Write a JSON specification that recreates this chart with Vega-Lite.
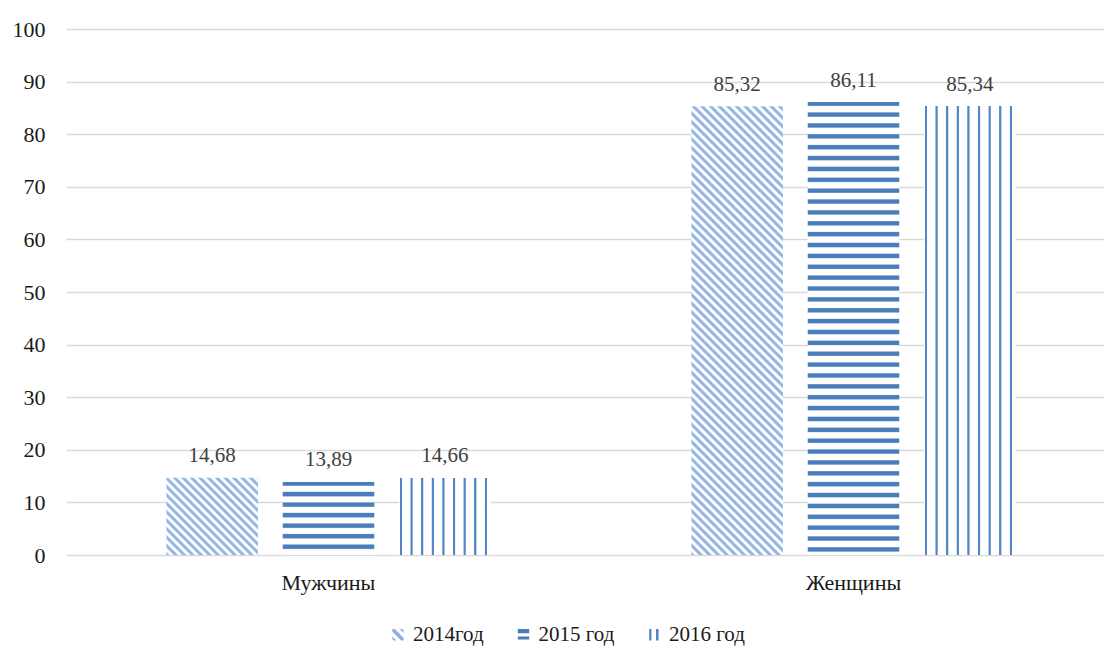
{
"$schema": "https://vega.github.io/schema/vega-lite/v6.json",
"width": 1038,
"height": 526,
"autosize": {"type": "none"},
"padding": {"left": 66, "top": 29, "right": 0, "bottom": 91},
"background": "white",
"config": {
  "view": {"stroke": null},
  "font": "Liberation Serif, Times New Roman, serif",
  "locale": {"number": {"decimal": ",", "thousands": " ", "grouping": [3], "currency": ["", ""]}}
},
"data": {"values": [
  {"sex": "Мужчины", "year": "2014год", "value": 14.68},
  {"sex": "Мужчины", "year": "2015 год", "value": 13.89},
  {"sex": "Мужчины", "year": "2016 год", "value": 14.66},
  {"sex": "Женщины", "year": "2014год", "value": 85.32},
  {"sex": "Женщины", "year": "2015 год", "value": 86.11},
  {"sex": "Женщины", "year": "2016 год", "value": 85.34}
]},
"encoding": {
  "x": {"field": "sex", "type": "nominal", "sort": ["Мужчины", "Женщины"],
    "scale": {"range": [0, 1050], "paddingInner": 0, "paddingOuter": 0},
    "axis": {"title": null, "domain": false, "ticks": false, "labelAngle": 0, "labelFont": "Liberation Serif, Times New Roman, serif", "labelFontSize": 22, "labelColor": "#1a1a1a", "labelPadding": 17}},
  "xOffset": {"field": "year", "type": "nominal", "scale": {"paddingInner": 0.213, "paddingOuter": 0.8635}},
  "y": {"field": "value", "type": "quantitative", "scale": {"domain": [0, 100]},
    "axis": {"title": null, "values": [0, 10, 20, 30, 40, 50, 60, 70, 80, 90, 100], "domain": false, "ticks": false, "grid": true, "gridColor": "#d9d9d9", "gridWidth": 1.3, "labelFont": "Liberation Serif, Times New Roman, serif", "labelFontSize": 22, "labelColor": "#1a1a1a", "labelPadding": 21}}
},
"layer": [
  {
    "mark": {"type": "point", "filled": true, "opacity": 0, "strokeWidth": 0},
    "encoding": {
      "y": {"datum": 0, "type": "quantitative"},
      "color": {"field": "year", "type": "nominal",
        "scale": {"range": ["#8fb0de", "#4a7dbb", "#5386c4"]},
        "legend": {"title": null, "orient": "none", "legendX": 321.5, "legendY": 595, "direction": "horizontal", "symbolSize": 130, "symbolStrokeWidth": 0, "symbolOpacity": 1, "labelFont": "Liberation Serif, Times New Roman, serif", "labelFontSize": 21, "labelColor": "#1a1a1a", "labelOffset": 4.5, "columnPadding": 28.5, "padding": 0}},
      "shape": {"field": "year", "type": "nominal",
        "scale": {"range": [
          "M-1,-1L-0.55,-1L1,0.55L1,1L0.55,1L-1,-0.55Z M0.3,-1L0.75,-1L1,-0.75L1,-0.3Z M-1,0.3L-0.3,1L-0.75,1L-1,0.75Z",
          "M-1,-1H1V-0.25H-1Z M-1,0.3H1V0.85H-1Z",
          "M-0.85,-1H-0.45V1H-0.85Z M0.35,-1H0.8V1H0.35Z"
        ]},
        "legend": {"title": null, "orient": "none", "legendX": 321.5, "legendY": 595, "direction": "horizontal", "symbolSize": 130, "symbolStrokeWidth": 0, "symbolOpacity": 1, "labelFont": "Liberation Serif, Times New Roman, serif", "labelFontSize": 21, "labelColor": "#1a1a1a", "labelOffset": 4.5, "columnPadding": 28.5, "padding": 0}}
    }
  },
  {
    "mark": {"type": "bar", "stroke": null},
    "encoding": {
      "fill": {
        "condition": [
          {"test": "datum.year === '2014год' && datum.sex === 'Мужчины'", "value": {"gradient": "linear", "x1": 0, "y1": 1, "x2": 1.0776, "y2": 0.092, "stops": [
            {"offset": 0, "color": "#94b4e0"}, {"offset": 0.0125, "color": "#94b4e0"}, {"offset": 0.025, "color": "#ffffff"}, {"offset": 0.0375, "color": "#ffffff"},
            {"offset": 0.05, "color": "#94b4e0"}, {"offset": 0.0625, "color": "#94b4e0"}, {"offset": 0.075, "color": "#ffffff"}, {"offset": 0.0875, "color": "#ffffff"},
            {"offset": 0.1, "color": "#94b4e0"}, {"offset": 0.1125, "color": "#94b4e0"}, {"offset": 0.125, "color": "#ffffff"}, {"offset": 0.1375, "color": "#ffffff"},
            {"offset": 0.15, "color": "#94b4e0"}, {"offset": 0.1625, "color": "#94b4e0"}, {"offset": 0.175, "color": "#ffffff"}, {"offset": 0.1875, "color": "#ffffff"},
            {"offset": 0.2, "color": "#94b4e0"}, {"offset": 0.2125, "color": "#94b4e0"}, {"offset": 0.225, "color": "#ffffff"}, {"offset": 0.2375, "color": "#ffffff"},
            {"offset": 0.25, "color": "#94b4e0"}, {"offset": 0.2625, "color": "#94b4e0"}, {"offset": 0.275, "color": "#ffffff"}, {"offset": 0.2875, "color": "#ffffff"},
            {"offset": 0.3, "color": "#94b4e0"}, {"offset": 0.3125, "color": "#94b4e0"}, {"offset": 0.325, "color": "#ffffff"}, {"offset": 0.3375, "color": "#ffffff"},
            {"offset": 0.35, "color": "#94b4e0"}, {"offset": 0.3625, "color": "#94b4e0"}, {"offset": 0.375, "color": "#ffffff"}, {"offset": 0.3875, "color": "#ffffff"},
            {"offset": 0.4, "color": "#94b4e0"}, {"offset": 0.4125, "color": "#94b4e0"}, {"offset": 0.425, "color": "#ffffff"}, {"offset": 0.4375, "color": "#ffffff"},
            {"offset": 0.45, "color": "#94b4e0"}, {"offset": 0.4625, "color": "#94b4e0"}, {"offset": 0.475, "color": "#ffffff"}, {"offset": 0.4875, "color": "#ffffff"},
            {"offset": 0.5, "color": "#94b4e0"}, {"offset": 0.5125, "color": "#94b4e0"}, {"offset": 0.525, "color": "#ffffff"}, {"offset": 0.5375, "color": "#ffffff"},
            {"offset": 0.55, "color": "#94b4e0"}, {"offset": 0.5625, "color": "#94b4e0"}, {"offset": 0.575, "color": "#ffffff"}, {"offset": 0.5875, "color": "#ffffff"},
            {"offset": 0.6, "color": "#94b4e0"}, {"offset": 0.6125, "color": "#94b4e0"}, {"offset": 0.625, "color": "#ffffff"}, {"offset": 0.6375, "color": "#ffffff"},
            {"offset": 0.65, "color": "#94b4e0"}, {"offset": 0.6625, "color": "#94b4e0"}, {"offset": 0.675, "color": "#ffffff"}, {"offset": 0.6875, "color": "#ffffff"},
            {"offset": 0.7, "color": "#94b4e0"}, {"offset": 0.7125, "color": "#94b4e0"}, {"offset": 0.725, "color": "#ffffff"}, {"offset": 0.7375, "color": "#ffffff"},
            {"offset": 0.75, "color": "#94b4e0"}, {"offset": 0.7625, "color": "#94b4e0"}, {"offset": 0.775, "color": "#ffffff"}, {"offset": 0.7875, "color": "#ffffff"},
            {"offset": 0.8, "color": "#94b4e0"}, {"offset": 0.8125, "color": "#94b4e0"}, {"offset": 0.825, "color": "#ffffff"}, {"offset": 0.8375, "color": "#ffffff"},
            {"offset": 0.85, "color": "#94b4e0"}, {"offset": 0.8625, "color": "#94b4e0"}, {"offset": 0.875, "color": "#ffffff"}, {"offset": 0.8875, "color": "#ffffff"},
            {"offset": 0.9, "color": "#94b4e0"}, {"offset": 0.9125, "color": "#94b4e0"}, {"offset": 0.925, "color": "#ffffff"}, {"offset": 0.9375, "color": "#ffffff"},
            {"offset": 0.95, "color": "#94b4e0"}, {"offset": 0.9625, "color": "#94b4e0"}, {"offset": 0.975, "color": "#ffffff"}, {"offset": 0.9875, "color": "#ffffff"},
            {"offset": 1, "color": "#94b4e0"}]}},
          {"test": "datum.year === '2014год'", "value": {"gradient": "linear", "x1": 0, "y1": 1, "x2": 0.2359, "y2": -0.1559, "stops": [
            {"offset": 0, "color": "#94b4e0"}, {"offset": 0.004, "color": "#94b4e0"}, {"offset": 0.008, "color": "#ffffff"}, {"offset": 0.012, "color": "#ffffff"},
            {"offset": 0.016, "color": "#94b4e0"}, {"offset": 0.02, "color": "#94b4e0"}, {"offset": 0.024, "color": "#ffffff"}, {"offset": 0.028, "color": "#ffffff"},
            {"offset": 0.032, "color": "#94b4e0"}, {"offset": 0.036, "color": "#94b4e0"}, {"offset": 0.04, "color": "#ffffff"}, {"offset": 0.044, "color": "#ffffff"},
            {"offset": 0.048, "color": "#94b4e0"}, {"offset": 0.052, "color": "#94b4e0"}, {"offset": 0.056, "color": "#ffffff"}, {"offset": 0.06, "color": "#ffffff"},
            {"offset": 0.064, "color": "#94b4e0"}, {"offset": 0.068, "color": "#94b4e0"}, {"offset": 0.072, "color": "#ffffff"}, {"offset": 0.076, "color": "#ffffff"},
            {"offset": 0.08, "color": "#94b4e0"}, {"offset": 0.084, "color": "#94b4e0"}, {"offset": 0.088, "color": "#ffffff"}, {"offset": 0.092, "color": "#ffffff"},
            {"offset": 0.096, "color": "#94b4e0"}, {"offset": 0.1, "color": "#94b4e0"}, {"offset": 0.104, "color": "#ffffff"}, {"offset": 0.108, "color": "#ffffff"},
            {"offset": 0.112, "color": "#94b4e0"}, {"offset": 0.116, "color": "#94b4e0"}, {"offset": 0.12, "color": "#ffffff"}, {"offset": 0.124, "color": "#ffffff"},
            {"offset": 0.128, "color": "#94b4e0"}, {"offset": 0.132, "color": "#94b4e0"}, {"offset": 0.136, "color": "#ffffff"}, {"offset": 0.14, "color": "#ffffff"},
            {"offset": 0.144, "color": "#94b4e0"}, {"offset": 0.148, "color": "#94b4e0"}, {"offset": 0.152, "color": "#ffffff"}, {"offset": 0.156, "color": "#ffffff"},
            {"offset": 0.16, "color": "#94b4e0"}, {"offset": 0.164, "color": "#94b4e0"}, {"offset": 0.168, "color": "#ffffff"}, {"offset": 0.172, "color": "#ffffff"},
            {"offset": 0.176, "color": "#94b4e0"}, {"offset": 0.18, "color": "#94b4e0"}, {"offset": 0.184, "color": "#ffffff"}, {"offset": 0.188, "color": "#ffffff"},
            {"offset": 0.192, "color": "#94b4e0"}, {"offset": 0.196, "color": "#94b4e0"}, {"offset": 0.2, "color": "#ffffff"}, {"offset": 0.204, "color": "#ffffff"},
            {"offset": 0.208, "color": "#94b4e0"}, {"offset": 0.212, "color": "#94b4e0"}, {"offset": 0.216, "color": "#ffffff"}, {"offset": 0.22, "color": "#ffffff"},
            {"offset": 0.224, "color": "#94b4e0"}, {"offset": 0.228, "color": "#94b4e0"}, {"offset": 0.232, "color": "#ffffff"}, {"offset": 0.236, "color": "#ffffff"},
            {"offset": 0.24, "color": "#94b4e0"}, {"offset": 0.244, "color": "#94b4e0"}, {"offset": 0.248, "color": "#ffffff"}, {"offset": 0.252, "color": "#ffffff"},
            {"offset": 0.256, "color": "#94b4e0"}, {"offset": 0.26, "color": "#94b4e0"}, {"offset": 0.264, "color": "#ffffff"}, {"offset": 0.268, "color": "#ffffff"},
            {"offset": 0.272, "color": "#94b4e0"}, {"offset": 0.276, "color": "#94b4e0"}, {"offset": 0.28, "color": "#ffffff"}, {"offset": 0.284, "color": "#ffffff"},
            {"offset": 0.288, "color": "#94b4e0"}, {"offset": 0.292, "color": "#94b4e0"}, {"offset": 0.296, "color": "#ffffff"}, {"offset": 0.3, "color": "#ffffff"},
            {"offset": 0.304, "color": "#94b4e0"}, {"offset": 0.308, "color": "#94b4e0"}, {"offset": 0.312, "color": "#ffffff"}, {"offset": 0.316, "color": "#ffffff"},
            {"offset": 0.32, "color": "#94b4e0"}, {"offset": 0.324, "color": "#94b4e0"}, {"offset": 0.328, "color": "#ffffff"}, {"offset": 0.332, "color": "#ffffff"},
            {"offset": 0.336, "color": "#94b4e0"}, {"offset": 0.34, "color": "#94b4e0"}, {"offset": 0.344, "color": "#ffffff"}, {"offset": 0.348, "color": "#ffffff"},
            {"offset": 0.352, "color": "#94b4e0"}, {"offset": 0.356, "color": "#94b4e0"}, {"offset": 0.36, "color": "#ffffff"}, {"offset": 0.364, "color": "#ffffff"},
            {"offset": 0.368, "color": "#94b4e0"}, {"offset": 0.372, "color": "#94b4e0"}, {"offset": 0.376, "color": "#ffffff"}, {"offset": 0.38, "color": "#ffffff"},
            {"offset": 0.384, "color": "#94b4e0"}, {"offset": 0.388, "color": "#94b4e0"}, {"offset": 0.392, "color": "#ffffff"}, {"offset": 0.396, "color": "#ffffff"},
            {"offset": 0.4, "color": "#94b4e0"}, {"offset": 0.404, "color": "#94b4e0"}, {"offset": 0.408, "color": "#ffffff"}, {"offset": 0.412, "color": "#ffffff"},
            {"offset": 0.416, "color": "#94b4e0"}, {"offset": 0.42, "color": "#94b4e0"}, {"offset": 0.424, "color": "#ffffff"}, {"offset": 0.428, "color": "#ffffff"},
            {"offset": 0.432, "color": "#94b4e0"}, {"offset": 0.436, "color": "#94b4e0"}, {"offset": 0.44, "color": "#ffffff"}, {"offset": 0.444, "color": "#ffffff"},
            {"offset": 0.448, "color": "#94b4e0"}, {"offset": 0.452, "color": "#94b4e0"}, {"offset": 0.456, "color": "#ffffff"}, {"offset": 0.46, "color": "#ffffff"},
            {"offset": 0.464, "color": "#94b4e0"}, {"offset": 0.468, "color": "#94b4e0"}, {"offset": 0.472, "color": "#ffffff"}, {"offset": 0.476, "color": "#ffffff"},
            {"offset": 0.48, "color": "#94b4e0"}, {"offset": 0.484, "color": "#94b4e0"}, {"offset": 0.488, "color": "#ffffff"}, {"offset": 0.492, "color": "#ffffff"},
            {"offset": 0.496, "color": "#94b4e0"}, {"offset": 0.5, "color": "#94b4e0"}, {"offset": 0.504, "color": "#ffffff"}, {"offset": 0.508, "color": "#ffffff"},
            {"offset": 0.512, "color": "#94b4e0"}, {"offset": 0.516, "color": "#94b4e0"}, {"offset": 0.52, "color": "#ffffff"}, {"offset": 0.524, "color": "#ffffff"},
            {"offset": 0.528, "color": "#94b4e0"}, {"offset": 0.532, "color": "#94b4e0"}, {"offset": 0.536, "color": "#ffffff"}, {"offset": 0.54, "color": "#ffffff"},
            {"offset": 0.544, "color": "#94b4e0"}, {"offset": 0.548, "color": "#94b4e0"}, {"offset": 0.552, "color": "#ffffff"}, {"offset": 0.556, "color": "#ffffff"},
            {"offset": 0.56, "color": "#94b4e0"}, {"offset": 0.564, "color": "#94b4e0"}, {"offset": 0.568, "color": "#ffffff"}, {"offset": 0.572, "color": "#ffffff"},
            {"offset": 0.576, "color": "#94b4e0"}, {"offset": 0.58, "color": "#94b4e0"}, {"offset": 0.584, "color": "#ffffff"}, {"offset": 0.588, "color": "#ffffff"},
            {"offset": 0.592, "color": "#94b4e0"}, {"offset": 0.596, "color": "#94b4e0"}, {"offset": 0.6, "color": "#ffffff"}, {"offset": 0.604, "color": "#ffffff"},
            {"offset": 0.608, "color": "#94b4e0"}, {"offset": 0.612, "color": "#94b4e0"}, {"offset": 0.616, "color": "#ffffff"}, {"offset": 0.62, "color": "#ffffff"},
            {"offset": 0.624, "color": "#94b4e0"}, {"offset": 0.628, "color": "#94b4e0"}, {"offset": 0.632, "color": "#ffffff"}, {"offset": 0.636, "color": "#ffffff"},
            {"offset": 0.64, "color": "#94b4e0"}, {"offset": 0.644, "color": "#94b4e0"}, {"offset": 0.648, "color": "#ffffff"}, {"offset": 0.652, "color": "#ffffff"},
            {"offset": 0.656, "color": "#94b4e0"}, {"offset": 0.66, "color": "#94b4e0"}, {"offset": 0.664, "color": "#ffffff"}, {"offset": 0.668, "color": "#ffffff"},
            {"offset": 0.672, "color": "#94b4e0"}, {"offset": 0.676, "color": "#94b4e0"}, {"offset": 0.68, "color": "#ffffff"}, {"offset": 0.684, "color": "#ffffff"},
            {"offset": 0.688, "color": "#94b4e0"}, {"offset": 0.692, "color": "#94b4e0"}, {"offset": 0.696, "color": "#ffffff"}, {"offset": 0.7, "color": "#ffffff"},
            {"offset": 0.704, "color": "#94b4e0"}, {"offset": 0.708, "color": "#94b4e0"}, {"offset": 0.712, "color": "#ffffff"}, {"offset": 0.716, "color": "#ffffff"},
            {"offset": 0.72, "color": "#94b4e0"}, {"offset": 0.724, "color": "#94b4e0"}, {"offset": 0.728, "color": "#ffffff"}, {"offset": 0.732, "color": "#ffffff"},
            {"offset": 0.736, "color": "#94b4e0"}, {"offset": 0.74, "color": "#94b4e0"}, {"offset": 0.744, "color": "#ffffff"}, {"offset": 0.748, "color": "#ffffff"},
            {"offset": 0.752, "color": "#94b4e0"}, {"offset": 0.756, "color": "#94b4e0"}, {"offset": 0.76, "color": "#ffffff"}, {"offset": 0.764, "color": "#ffffff"},
            {"offset": 0.768, "color": "#94b4e0"}, {"offset": 0.772, "color": "#94b4e0"}, {"offset": 0.776, "color": "#ffffff"}, {"offset": 0.78, "color": "#ffffff"},
            {"offset": 0.784, "color": "#94b4e0"}, {"offset": 0.788, "color": "#94b4e0"}, {"offset": 0.792, "color": "#ffffff"}, {"offset": 0.796, "color": "#ffffff"},
            {"offset": 0.8, "color": "#94b4e0"}, {"offset": 0.804, "color": "#94b4e0"}, {"offset": 0.808, "color": "#ffffff"}, {"offset": 0.812, "color": "#ffffff"},
            {"offset": 0.816, "color": "#94b4e0"}, {"offset": 0.82, "color": "#94b4e0"}, {"offset": 0.824, "color": "#ffffff"}, {"offset": 0.828, "color": "#ffffff"},
            {"offset": 0.832, "color": "#94b4e0"}, {"offset": 0.836, "color": "#94b4e0"}, {"offset": 0.84, "color": "#ffffff"}, {"offset": 0.844, "color": "#ffffff"},
            {"offset": 0.848, "color": "#94b4e0"}, {"offset": 0.852, "color": "#94b4e0"}, {"offset": 0.856, "color": "#ffffff"}, {"offset": 0.86, "color": "#ffffff"},
            {"offset": 0.864, "color": "#94b4e0"}, {"offset": 0.868, "color": "#94b4e0"}, {"offset": 0.872, "color": "#ffffff"}, {"offset": 0.876, "color": "#ffffff"},
            {"offset": 0.88, "color": "#94b4e0"}, {"offset": 0.884, "color": "#94b4e0"}, {"offset": 0.888, "color": "#ffffff"}, {"offset": 0.892, "color": "#ffffff"},
            {"offset": 0.896, "color": "#94b4e0"}, {"offset": 0.9, "color": "#94b4e0"}, {"offset": 0.904, "color": "#ffffff"}, {"offset": 0.908, "color": "#ffffff"},
            {"offset": 0.912, "color": "#94b4e0"}, {"offset": 0.916, "color": "#94b4e0"}, {"offset": 0.92, "color": "#ffffff"}, {"offset": 0.924, "color": "#ffffff"},
            {"offset": 0.928, "color": "#94b4e0"}, {"offset": 0.932, "color": "#94b4e0"}, {"offset": 0.936, "color": "#ffffff"}, {"offset": 0.94, "color": "#ffffff"},
            {"offset": 0.944, "color": "#94b4e0"}, {"offset": 0.948, "color": "#94b4e0"}, {"offset": 0.952, "color": "#ffffff"}, {"offset": 0.956, "color": "#ffffff"},
            {"offset": 0.96, "color": "#94b4e0"}, {"offset": 0.964, "color": "#94b4e0"}, {"offset": 0.968, "color": "#ffffff"}, {"offset": 0.972, "color": "#ffffff"},
            {"offset": 0.976, "color": "#94b4e0"}, {"offset": 0.98, "color": "#94b4e0"}, {"offset": 0.984, "color": "#ffffff"}, {"offset": 0.988, "color": "#ffffff"},
            {"offset": 0.992, "color": "#94b4e0"}, {"offset": 0.996, "color": "#94b4e0"}, {"offset": 1, "color": "#ffffff"}]}},
          {"test": "datum.year === '2015 год' && datum.sex === 'Мужчины'", "value": {"gradient": "linear", "x1": 0, "y1": 0, "x2": 0, "y2": 1, "stops": [
            {"offset": 0, "color": "#4a7dbb"}, {"offset": 0.045, "color": "#4a7dbb"}, {"offset": 0.062, "color": "#ffffff"}, {"offset": 0.128, "color": "#ffffff"},
            {"offset": 0.144, "color": "#4a7dbb"}, {"offset": 0.189, "color": "#4a7dbb"}, {"offset": 0.206, "color": "#ffffff"}, {"offset": 0.272, "color": "#ffffff"},
            {"offset": 0.288, "color": "#4a7dbb"}, {"offset": 0.333, "color": "#4a7dbb"}, {"offset": 0.35, "color": "#ffffff"}, {"offset": 0.416, "color": "#ffffff"},
            {"offset": 0.432, "color": "#4a7dbb"}, {"offset": 0.477, "color": "#4a7dbb"}, {"offset": 0.494, "color": "#ffffff"}, {"offset": 0.56, "color": "#ffffff"},
            {"offset": 0.576, "color": "#4a7dbb"}, {"offset": 0.621, "color": "#4a7dbb"}, {"offset": 0.638, "color": "#ffffff"}, {"offset": 0.704, "color": "#ffffff"},
            {"offset": 0.72, "color": "#4a7dbb"}, {"offset": 0.765, "color": "#4a7dbb"}, {"offset": 0.782, "color": "#ffffff"}, {"offset": 0.848, "color": "#ffffff"},
            {"offset": 0.864, "color": "#4a7dbb"}, {"offset": 0.909, "color": "#4a7dbb"}, {"offset": 0.926, "color": "#ffffff"}]}},
          {"test": "datum.year === '2015 год'", "value": {"gradient": "linear", "x1": 0, "y1": 0, "x2": 0, "y2": 1, "stops": [
            {"offset": 0, "color": "#4a7dbb"}, {"offset": 0.0072, "color": "#4a7dbb"}, {"offset": 0.0099, "color": "#ffffff"}, {"offset": 0.0215, "color": "#ffffff"},
            {"offset": 0.024, "color": "#4a7dbb"}, {"offset": 0.0312, "color": "#4a7dbb"}, {"offset": 0.0339, "color": "#ffffff"}, {"offset": 0.0455, "color": "#ffffff"},
            {"offset": 0.048, "color": "#4a7dbb"}, {"offset": 0.0552, "color": "#4a7dbb"}, {"offset": 0.0579, "color": "#ffffff"}, {"offset": 0.0695, "color": "#ffffff"},
            {"offset": 0.072, "color": "#4a7dbb"}, {"offset": 0.0792, "color": "#4a7dbb"}, {"offset": 0.0819, "color": "#ffffff"}, {"offset": 0.0935, "color": "#ffffff"},
            {"offset": 0.096, "color": "#4a7dbb"}, {"offset": 0.1032, "color": "#4a7dbb"}, {"offset": 0.1059, "color": "#ffffff"}, {"offset": 0.1175, "color": "#ffffff"},
            {"offset": 0.12, "color": "#4a7dbb"}, {"offset": 0.1272, "color": "#4a7dbb"}, {"offset": 0.1299, "color": "#ffffff"}, {"offset": 0.1415, "color": "#ffffff"},
            {"offset": 0.144, "color": "#4a7dbb"}, {"offset": 0.1512, "color": "#4a7dbb"}, {"offset": 0.1539, "color": "#ffffff"}, {"offset": 0.1655, "color": "#ffffff"},
            {"offset": 0.168, "color": "#4a7dbb"}, {"offset": 0.1752, "color": "#4a7dbb"}, {"offset": 0.1779, "color": "#ffffff"}, {"offset": 0.1895, "color": "#ffffff"},
            {"offset": 0.192, "color": "#4a7dbb"}, {"offset": 0.1992, "color": "#4a7dbb"}, {"offset": 0.2019, "color": "#ffffff"}, {"offset": 0.2135, "color": "#ffffff"},
            {"offset": 0.216, "color": "#4a7dbb"}, {"offset": 0.2232, "color": "#4a7dbb"}, {"offset": 0.2259, "color": "#ffffff"}, {"offset": 0.2375, "color": "#ffffff"},
            {"offset": 0.24, "color": "#4a7dbb"}, {"offset": 0.2472, "color": "#4a7dbb"}, {"offset": 0.2499, "color": "#ffffff"}, {"offset": 0.2615, "color": "#ffffff"},
            {"offset": 0.264, "color": "#4a7dbb"}, {"offset": 0.2712, "color": "#4a7dbb"}, {"offset": 0.2739, "color": "#ffffff"}, {"offset": 0.2855, "color": "#ffffff"},
            {"offset": 0.288, "color": "#4a7dbb"}, {"offset": 0.2952, "color": "#4a7dbb"}, {"offset": 0.2979, "color": "#ffffff"}, {"offset": 0.3095, "color": "#ffffff"},
            {"offset": 0.312, "color": "#4a7dbb"}, {"offset": 0.3192, "color": "#4a7dbb"}, {"offset": 0.3219, "color": "#ffffff"}, {"offset": 0.3335, "color": "#ffffff"},
            {"offset": 0.336, "color": "#4a7dbb"}, {"offset": 0.3432, "color": "#4a7dbb"}, {"offset": 0.3459, "color": "#ffffff"}, {"offset": 0.3575, "color": "#ffffff"},
            {"offset": 0.36, "color": "#4a7dbb"}, {"offset": 0.3672, "color": "#4a7dbb"}, {"offset": 0.3699, "color": "#ffffff"}, {"offset": 0.3815, "color": "#ffffff"},
            {"offset": 0.384, "color": "#4a7dbb"}, {"offset": 0.3912, "color": "#4a7dbb"}, {"offset": 0.3939, "color": "#ffffff"}, {"offset": 0.4055, "color": "#ffffff"},
            {"offset": 0.408, "color": "#4a7dbb"}, {"offset": 0.4152, "color": "#4a7dbb"}, {"offset": 0.4179, "color": "#ffffff"}, {"offset": 0.4295, "color": "#ffffff"},
            {"offset": 0.432, "color": "#4a7dbb"}, {"offset": 0.4392, "color": "#4a7dbb"}, {"offset": 0.4419, "color": "#ffffff"}, {"offset": 0.4535, "color": "#ffffff"},
            {"offset": 0.456, "color": "#4a7dbb"}, {"offset": 0.4632, "color": "#4a7dbb"}, {"offset": 0.4659, "color": "#ffffff"}, {"offset": 0.4775, "color": "#ffffff"},
            {"offset": 0.48, "color": "#4a7dbb"}, {"offset": 0.4872, "color": "#4a7dbb"}, {"offset": 0.4899, "color": "#ffffff"}, {"offset": 0.5015, "color": "#ffffff"},
            {"offset": 0.504, "color": "#4a7dbb"}, {"offset": 0.5112, "color": "#4a7dbb"}, {"offset": 0.5139, "color": "#ffffff"}, {"offset": 0.5255, "color": "#ffffff"},
            {"offset": 0.528, "color": "#4a7dbb"}, {"offset": 0.5352, "color": "#4a7dbb"}, {"offset": 0.5379, "color": "#ffffff"}, {"offset": 0.5495, "color": "#ffffff"},
            {"offset": 0.552, "color": "#4a7dbb"}, {"offset": 0.5592, "color": "#4a7dbb"}, {"offset": 0.5619, "color": "#ffffff"}, {"offset": 0.5735, "color": "#ffffff"},
            {"offset": 0.576, "color": "#4a7dbb"}, {"offset": 0.5832, "color": "#4a7dbb"}, {"offset": 0.5859, "color": "#ffffff"}, {"offset": 0.5975, "color": "#ffffff"},
            {"offset": 0.6, "color": "#4a7dbb"}, {"offset": 0.6072, "color": "#4a7dbb"}, {"offset": 0.6099, "color": "#ffffff"}, {"offset": 0.6215, "color": "#ffffff"},
            {"offset": 0.624, "color": "#4a7dbb"}, {"offset": 0.6312, "color": "#4a7dbb"}, {"offset": 0.6339, "color": "#ffffff"}, {"offset": 0.6455, "color": "#ffffff"},
            {"offset": 0.648, "color": "#4a7dbb"}, {"offset": 0.6552, "color": "#4a7dbb"}, {"offset": 0.6579, "color": "#ffffff"}, {"offset": 0.6695, "color": "#ffffff"},
            {"offset": 0.672, "color": "#4a7dbb"}, {"offset": 0.6792, "color": "#4a7dbb"}, {"offset": 0.6819, "color": "#ffffff"}, {"offset": 0.6935, "color": "#ffffff"},
            {"offset": 0.696, "color": "#4a7dbb"}, {"offset": 0.7032, "color": "#4a7dbb"}, {"offset": 0.7059, "color": "#ffffff"}, {"offset": 0.7175, "color": "#ffffff"},
            {"offset": 0.72, "color": "#4a7dbb"}, {"offset": 0.7272, "color": "#4a7dbb"}, {"offset": 0.7299, "color": "#ffffff"}, {"offset": 0.7415, "color": "#ffffff"},
            {"offset": 0.744, "color": "#4a7dbb"}, {"offset": 0.7512, "color": "#4a7dbb"}, {"offset": 0.7539, "color": "#ffffff"}, {"offset": 0.7655, "color": "#ffffff"},
            {"offset": 0.768, "color": "#4a7dbb"}, {"offset": 0.7752, "color": "#4a7dbb"}, {"offset": 0.7779, "color": "#ffffff"}, {"offset": 0.7895, "color": "#ffffff"},
            {"offset": 0.792, "color": "#4a7dbb"}, {"offset": 0.7992, "color": "#4a7dbb"}, {"offset": 0.8019, "color": "#ffffff"}, {"offset": 0.8135, "color": "#ffffff"},
            {"offset": 0.816, "color": "#4a7dbb"}, {"offset": 0.8232, "color": "#4a7dbb"}, {"offset": 0.8259, "color": "#ffffff"}, {"offset": 0.8375, "color": "#ffffff"},
            {"offset": 0.84, "color": "#4a7dbb"}, {"offset": 0.8472, "color": "#4a7dbb"}, {"offset": 0.8499, "color": "#ffffff"}, {"offset": 0.8615, "color": "#ffffff"},
            {"offset": 0.864, "color": "#4a7dbb"}, {"offset": 0.8712, "color": "#4a7dbb"}, {"offset": 0.8739, "color": "#ffffff"}, {"offset": 0.8855, "color": "#ffffff"},
            {"offset": 0.888, "color": "#4a7dbb"}, {"offset": 0.8952, "color": "#4a7dbb"}, {"offset": 0.8979, "color": "#ffffff"}, {"offset": 0.9095, "color": "#ffffff"},
            {"offset": 0.912, "color": "#4a7dbb"}, {"offset": 0.9192, "color": "#4a7dbb"}, {"offset": 0.9219, "color": "#ffffff"}, {"offset": 0.9335, "color": "#ffffff"},
            {"offset": 0.936, "color": "#4a7dbb"}, {"offset": 0.9432, "color": "#4a7dbb"}, {"offset": 0.9459, "color": "#ffffff"}, {"offset": 0.9575, "color": "#ffffff"},
            {"offset": 0.96, "color": "#4a7dbb"}, {"offset": 0.9672, "color": "#4a7dbb"}, {"offset": 0.9699, "color": "#ffffff"}, {"offset": 0.9815, "color": "#ffffff"},
            {"offset": 0.984, "color": "#4a7dbb"}, {"offset": 0.9912, "color": "#4a7dbb"}, {"offset": 0.9939, "color": "#ffffff"}]}}
        ],
        "value": {"gradient": "linear", "x1": 0, "y1": 0, "x2": 1, "y2": 0, "stops": [
          {"offset": 0.005, "color": "#ffffff"}, {"offset": 0.013, "color": "#5386c4"}, {"offset": 0.028, "color": "#5386c4"}, {"offset": 0.038, "color": "#ffffff"},
          {"offset": 0.121, "color": "#ffffff"}, {"offset": 0.129, "color": "#5386c4"}, {"offset": 0.144, "color": "#5386c4"}, {"offset": 0.154, "color": "#ffffff"},
          {"offset": 0.237, "color": "#ffffff"}, {"offset": 0.245, "color": "#5386c4"}, {"offset": 0.26, "color": "#5386c4"}, {"offset": 0.27, "color": "#ffffff"},
          {"offset": 0.353, "color": "#ffffff"}, {"offset": 0.361, "color": "#5386c4"}, {"offset": 0.376, "color": "#5386c4"}, {"offset": 0.386, "color": "#ffffff"},
          {"offset": 0.469, "color": "#ffffff"}, {"offset": 0.477, "color": "#5386c4"}, {"offset": 0.492, "color": "#5386c4"}, {"offset": 0.502, "color": "#ffffff"},
          {"offset": 0.585, "color": "#ffffff"}, {"offset": 0.593, "color": "#5386c4"}, {"offset": 0.608, "color": "#5386c4"}, {"offset": 0.618, "color": "#ffffff"},
          {"offset": 0.701, "color": "#ffffff"}, {"offset": 0.709, "color": "#5386c4"}, {"offset": 0.724, "color": "#5386c4"}, {"offset": 0.734, "color": "#ffffff"},
          {"offset": 0.817, "color": "#ffffff"}, {"offset": 0.825, "color": "#5386c4"}, {"offset": 0.84, "color": "#5386c4"}, {"offset": 0.85, "color": "#ffffff"},
          {"offset": 0.933, "color": "#ffffff"}, {"offset": 0.941, "color": "#5386c4"}, {"offset": 0.956, "color": "#5386c4"}, {"offset": 0.966, "color": "#ffffff"}]}
      }
    }
  },
  {
    "mark": {"type": "text", "dy": -15.5, "baseline": "alphabetic", "align": "center", "fontSize": 21, "font": "Liberation Serif, Times New Roman, serif", "color": "#404040"},
    "encoding": {"text": {"field": "value", "type": "quantitative", "format": ".2f"}}
  }
]
}
